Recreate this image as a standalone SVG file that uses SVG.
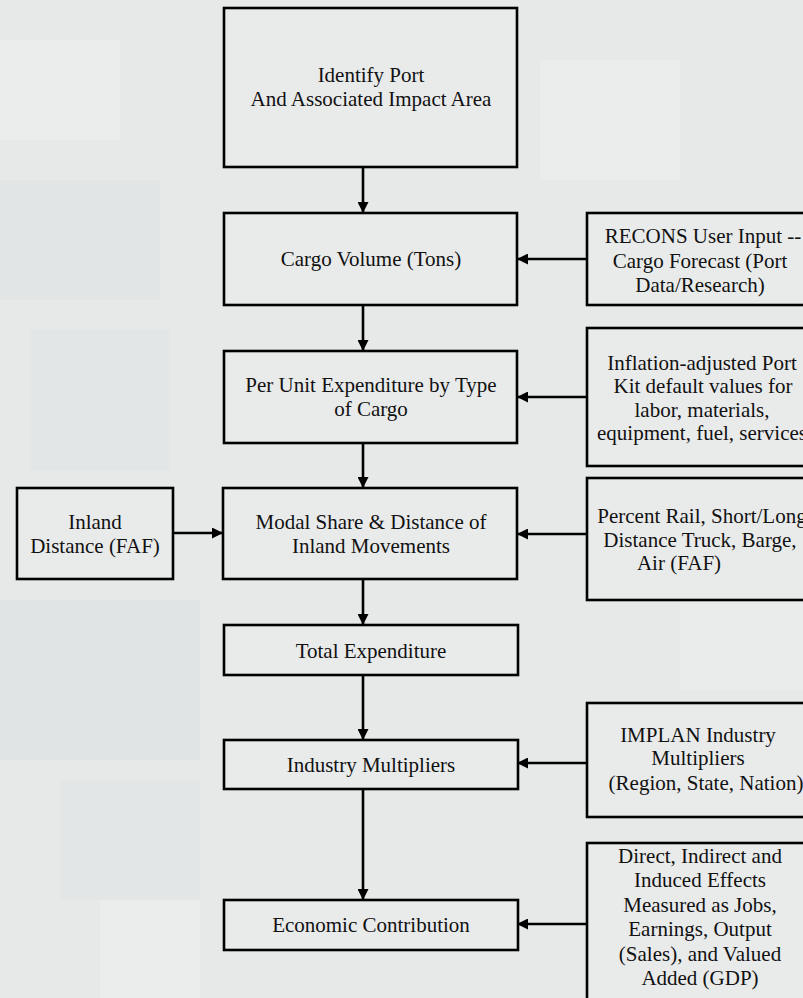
<svg xmlns="http://www.w3.org/2000/svg" width="803" height="998" viewBox="0 0 803 998">
<style>
.box{fill:#eef0f0;fill-opacity:0.35;stroke:#000;stroke-width:2.6}
.t{font-family:"Liberation Serif","Times New Roman",serif;font-size:21px;fill:#111;text-anchor:middle}
.c{stroke:#000;stroke-width:2.6;fill:none}
</style>
<defs>
<marker id="ah" viewBox="0 0 10 10" refX="10" refY="5" markerWidth="11" markerHeight="11" markerUnits="userSpaceOnUse" orient="auto"><path d="M0,0 L10,5 L0,10 z" fill="#000"/></marker>
</defs>
<g id="background">
<rect x="0" y="0" width="803" height="998" fill="#e7e9e9"/>
<rect x="0" y="180" width="160" height="120" fill="#e2e5e5"/>
<rect x="30" y="330" width="140" height="140" fill="#e3e6e6"/>
<rect x="0" y="600" width="200" height="160" fill="#e1e4e4"/>
<rect x="60" y="780" width="140" height="120" fill="#e3e6e6"/>
<rect x="0" y="40" width="120" height="100" fill="#ebeded"/>
<rect x="540" y="60" width="140" height="120" fill="#ebeded"/>
<rect x="100" y="900" width="100" height="98" fill="#ebeded"/>
<rect x="680" y="600" width="123" height="90" fill="#eaecec"/>
</g>
<g id="connectors">
<line class="c" x1="363" y1="167" x2="363" y2="213" marker-end="url(#ah)"/>
<line class="c" x1="363" y1="305" x2="363" y2="351" marker-end="url(#ah)"/>
<line class="c" x1="363" y1="443" x2="363" y2="488" marker-end="url(#ah)"/>
<line class="c" x1="363" y1="579" x2="363" y2="625" marker-end="url(#ah)"/>
<line class="c" x1="363" y1="675" x2="363" y2="740" marker-end="url(#ah)"/>
<line class="c" x1="363" y1="789" x2="363" y2="900" marker-end="url(#ah)"/>
<line class="c" x1="587" y1="259" x2="517" y2="259" marker-end="url(#ah)"/>
<line class="c" x1="587" y1="397" x2="517" y2="397" marker-end="url(#ah)"/>
<line class="c" x1="587" y1="534" x2="517" y2="534" marker-end="url(#ah)"/>
<line class="c" x1="173" y1="533" x2="223" y2="533" marker-end="url(#ah)"/>
<line class="c" x1="587" y1="763" x2="517" y2="763" marker-end="url(#ah)"/>
<line class="c" x1="587" y1="924" x2="517" y2="924" marker-end="url(#ah)"/>
</g>
<g id="identify-port">
<rect class="box" x="224" y="8" width="293" height="159"/>
<text class="t" x="371" y="82">Identify Port</text>
<text class="t" x="371" y="106">And Associated Impact Area</text>
</g>
<g id="cargo-volume">
<rect class="box" x="224" y="213" width="293" height="92"/>
<text class="t" x="371" y="266">Cargo Volume (Tons)</text>
</g>
<g id="per-unit">
<rect class="box" x="224" y="351" width="293" height="92"/>
<text class="t" x="371" y="392">Per Unit Expenditure by Type</text>
<text class="t" x="371" y="416">of Cargo</text>
</g>
<g id="modal-share">
<rect class="box" x="223" y="488" width="294" height="91"/>
<text class="t" x="371" y="529">Modal Share &amp; Distance of</text>
<text class="t" x="371" y="553">Inland Movements</text>
</g>
<g id="total-expenditure">
<rect class="box" x="224" y="625" width="294" height="50"/>
<text class="t" x="371" y="658">Total Expenditure</text>
</g>
<g id="industry-multipliers">
<rect class="box" x="224" y="740" width="294" height="49"/>
<text class="t" x="371" y="772">Industry Multipliers</text>
</g>
<g id="economic-contribution">
<rect class="box" x="224" y="900" width="294" height="50"/>
<text class="t" x="371" y="932">Economic Contribution</text>
</g>
<g id="inland-distance">
<rect class="box" x="17" y="488" width="156" height="91"/>
<text class="t" x="95" y="529">Inland</text>
<text class="t" x="95" y="553">Distance (FAF)</text>
</g>
<g id="recons-input">
<rect class="box" x="587" y="213" width="226" height="92"/>
<text class="t" x="703" y="243">RECONS User Input --</text>
<text class="t" x="700" y="268">Cargo Forecast (Port</text>
<text class="t" x="700" y="292">Data/Research)</text>
</g>
<g id="inflation-adjusted">
<rect class="box" x="587" y="328" width="226" height="138"/>
<text class="t" x="702" y="370">Inflation-adjusted Port</text>
<text class="t" x="703" y="393">Kit default values for</text>
<text class="t" x="702" y="417">labor, materials,</text>
<text class="t" x="702" y="440">equipment, fuel, services</text>
</g>
<g id="percent-rail">
<rect class="box" x="587" y="478" width="226" height="122"/>
<text class="t" x="702" y="523">Percent Rail, Short/Long</text>
<text class="t" x="700" y="547">Distance Truck, Barge,</text>
<text class="t" x="679" y="570">Air (FAF)</text>
</g>
<g id="implan">
<rect class="box" x="587" y="703" width="226" height="114"/>
<text class="t" x="698" y="742">IMPLAN Industry</text>
<text class="t" x="698" y="765">Multipliers</text>
<text class="t" x="706" y="790">(Region, State, Nation)</text>
</g>
<g id="direct-effects">
<rect class="box" x="587" y="843" width="226" height="170"/>
<text class="t" x="700" y="863">Direct, Indirect and</text>
<text class="t" x="700" y="887">Induced Effects</text>
<text class="t" x="700" y="912">Measured as Jobs,</text>
<text class="t" x="700" y="936">Earnings, Output</text>
<text class="t" x="700" y="961">(Sales), and Valued</text>
<text class="t" x="700" y="985">Added (GDP)</text>
</g>
</svg>
